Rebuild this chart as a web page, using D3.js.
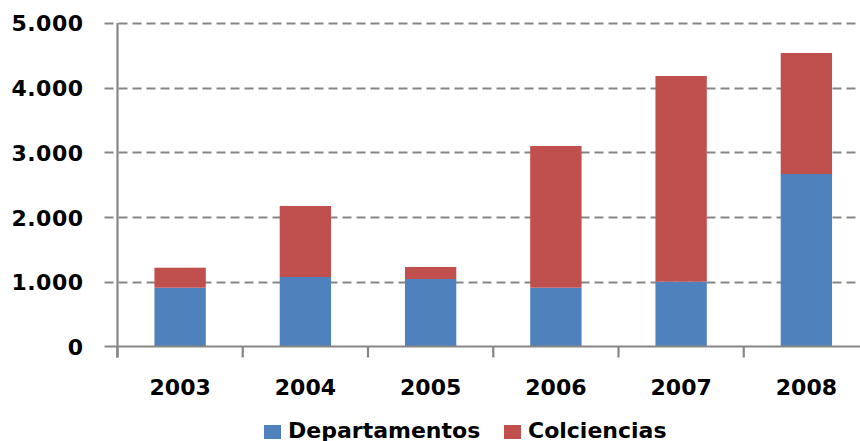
<!DOCTYPE html>
<html>
<head>
<meta charset="utf-8">
<script src="https://cdn.jsdelivr.net/npm/d3@7"></script>
<style>
  body { margin:0; background:#fff; }
  text { font-family:"DejaVu Sans", Verdana, sans-serif; font-weight:bold; fill:#000; }
</style>
</head>
<body>
<div id="chart"></div>
<script>
// datos
var years = ["2003","2004","2005","2006","2007","2008"]
var departamentos = [909, 1074, 1043, 909, 1002, 2666]
var colciencias   = [309, 1098, 186, 2190, 3179, 1870]
var seriesNames = ["Departamentos","Colciencias"]
var seriesColors = ["#4F81BD","#C0504D"]
var yTicks = [0,1000,2000,3000,4000,5000]

var W = 860, H = 441
var plotL = 117.5, plotR = 869, plotT = 23, plotB = 346.5

var svg = d3.select('#chart').append('svg')
  .attr('width', W)
  .attr('height', H)

var x = d3.scaleBand()
  .domain(years)
  .range([plotL, plotR])
  .paddingInner(0.59)
  .paddingOuter(0.295)

var y = d3.scaleLinear()
  .domain([0, 5000])
  .range([plotB, plotT])

var fmt = d3.formatLocale({decimal:",", thousands:".", grouping:[3], currency:["$",""]}).format(",")

// lineas de la grilla
svg.append('g').selectAll('line')
  .data(yTicks.filter(function(d){ return d > 0 }))
  .enter().append('line')
  .attr('x1', plotL - 13)
  .attr('x2', W)
  .attr('y1', function(d){ return Math.round(y(d)) + 0.5 })
  .attr('y2', function(d){ return Math.round(y(d)) + 0.5 })
  .attr('stroke', '#868686')
  .attr('stroke-width', 2.2)
  .attr('stroke-dasharray', '9,5')

// barras apiladas
var table = years.map(function(yr, i){
  return {year: yr, Departamentos: departamentos[i], Colciencias: colciencias[i]}
})
var stack = d3.stack().keys(seriesNames)(table)

svg.append('g').selectAll('g')
  .data(stack)
  .enter().append('g')
  .attr('fill', function(d, i){ return seriesColors[i] })
  .selectAll('rect')
  .data(function(d){ return d })
  .enter().append('rect')
  .attr('x', function(d){ return x(d.data.year) })
  .attr('width', x.bandwidth())
  .attr('y', function(d){ return y(d[1]) })
  .attr('height', function(d){ return y(d[0]) - y(d[1]) })

// eje y
var yAxis = svg.append('g')
  .attr('transform', 'translate(' + (plotL - 34) + ',0)')
  .call(d3.axisLeft(y).tickValues(yTicks).tickFormat(fmt).tickSize(0).tickPadding(0))
yAxis.select('.domain').remove()
yAxis.selectAll('text')
  .style('font-size', '22px')
  .style('letter-spacing', '0.5px')
  .attr('dy', '0.36em')

svg.append('line')
  .attr('x1', plotL).attr('x2', plotL)
  .attr('y1', plotT).attr('y2', plotB + 11)
  .attr('stroke', '#868686').attr('stroke-width', 2.2)

// eje x
svg.append('line')
  .attr('x1', plotL - 13).attr('x2', W)
  .attr('y1', plotB).attr('y2', plotB)
  .attr('stroke', '#868686').attr('stroke-width', 2.2)

var step = x.step()
svg.append('g').selectAll('line')
  .data(years)
  .enter().append('line')
  .attr('x1', function(d){ return x(d) - x.paddingInner() * step / 2 })
  .attr('x2', function(d){ return x(d) - x.paddingInner() * step / 2 })
  .attr('y1', plotB).attr('y2', plotB + 11)
  .attr('stroke', '#868686').attr('stroke-width', 2.2)

var xAxis = svg.append('g')
  .attr('transform', 'translate(0,' + (plotB + 33) + ')')
  .call(d3.axisBottom(x).tickSize(0).tickPadding(0))
xAxis.select('.domain').remove()
xAxis.selectAll('text')
  .style('font-size', '22px')
  .attr('dy', '0.71em')

// leyenda
var legendX = [264, 504]
var legend = svg.append('g').selectAll('g')
  .data(seriesNames)
  .enter().append('g')
  .attr('transform', function(d, i){ return 'translate(' + legendX[i] + ',425)' })
legend.append('rect')
  .attr('width', 17).attr('height', 14)
  .attr('fill', function(d, i){ return seriesColors[i] })
legend.append('text')
  .attr('x', 24).attr('y', 13)
  .style('font-size', '22px')
  .text(function(d){ return d })
</script>
</body>
</html>
